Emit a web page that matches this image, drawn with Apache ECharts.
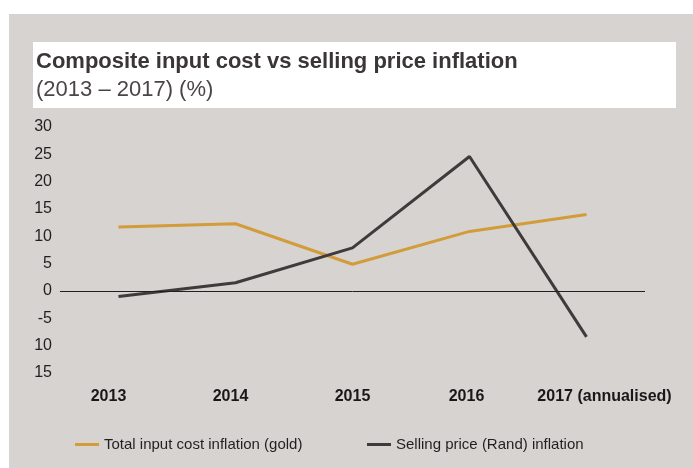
<!DOCTYPE html>
<html>
<head>
<meta charset="utf-8">
<script src="https://cdn.jsdelivr.net/npm/echarts@6/dist/echarts.min.js"></script>
<style>
  html, body { margin: 0; padding: 0; background: #fff; }
  #chart { width: 693px; height: 468px; }
</style>
</head>
<body>
<div id="chart"></div>
<script>
const years = ['2013', '2014', '2015', '2016', '2017 (annualised)']
const inputCost = [11.7, 12.3, 4.9, 10.9, 14.0]
const sellingPrice = [-1.0, 1.5, 7.9, 24.6, -8.4]
const yTicks = [-15, -10, -5, 0, 5, 10, 15, 20, 25, 30]
const yTickLabels = ['15', '10', '-5', '0', '5', '10', '15', '20', '25', '30']

const GOLD = '#d39c3b'
const DARK = '#403a3a'
const labelShift = [-10, -5, 0, -3, 18]

const chart = echarts.init(document.getElementById('chart'))

const option = {
  backgroundColor: '#fff',
  animation: false,
  graphic: [
    { type: 'rect', z: -10, shape: { x: 9, y: 14, width: 684, height: 454 }, style: { fill: '#d6d3d0' } },
    { type: 'rect', z: -9, shape: { x: 33, y: 42, width: 643, height: 66 }, style: { fill: '#fff' } }
  ],
  title: {
    text: 'Composite input cost vs selling price inflation',
    subtext: '(2013 – 2017) (%)',
    left: 31,
    top: 46,
    itemGap: 6,
    textStyle: { fontFamily: 'Liberation Sans', fontSize: 22, fontWeight: 'bold', color: '#3a3536' },
    subtextStyle: { fontFamily: 'Liberation Sans', fontSize: 22, color: '#4a4546' }
  },
  legend: [
    {
      left: 70, top: 432,
      data: ['Total input cost inflation (gold)'],
      icon: 'rect', itemWidth: 24, itemHeight: 3,
      textStyle: { fontFamily: 'Liberation Sans', fontSize: 15, color: '#231f20' }
    },
    {
      left: 362, top: 432,
      data: ['Selling price (Rand) inflation'],
      icon: 'rect', itemWidth: 24, itemHeight: 3,
      textStyle: { fontFamily: 'Liberation Sans', fontSize: 15, color: '#231f20' }
    }
  ],
  grid: { left: 60, right: 48, top: 127, bottom: 95, containLabel: false },
  xAxis: {
    type: 'category',
    data: years.map((y, i) => ({
      value: y,
      textStyle: {
        padding: labelShift[i] >= 0 ? [0, 0, 0, 2 * labelShift[i]] : [0, -2 * labelShift[i], 0, 0]
      }
    })),
    boundaryGap: true,
    axisLine: { show: false },
    axisTick: { show: false },
    axisLabel: {
      interval: 0,
      margin: 16,
      fontFamily: 'Liberation Sans',
      fontWeight: 'bold',
      fontSize: 16,
      color: '#1a1718'
    },
    splitLine: { show: false }
  },
  yAxis: {
    type: 'value',
    min: -15,
    max: 30,
    interval: 5,
    axisLine: { show: false },
    axisTick: { show: false },
    splitLine: { show: false },
    axisLabel: {
      margin: 8,
      fontFamily: 'Liberation Sans',
      fontSize: 16,
      color: '#231f20',
      formatter: v => yTickLabels[yTicks.indexOf(v)]
    }
  },
  series: [
    {
      name: 'Total input cost inflation (gold)',
      type: 'line',
      data: inputCost,
      symbol: 'none',
      lineStyle: { color: GOLD, width: 3 },
      itemStyle: { color: GOLD },
      z: 3,
      markLine: {
        silent: true,
        symbol: 'none',
        label: { show: false },
        lineStyle: { color: '#231f20', width: 1, type: 'solid' },
        data: [{ yAxis: 0 }]
      }
    },
    {
      name: 'Selling price (Rand) inflation',
      type: 'line',
      data: sellingPrice,
      symbol: 'none',
      lineStyle: { color: DARK, width: 3 },
      itemStyle: { color: DARK },
      z: 4
    }
  ]
}

chart.setOption(option)
</script>
</body>
</html>
